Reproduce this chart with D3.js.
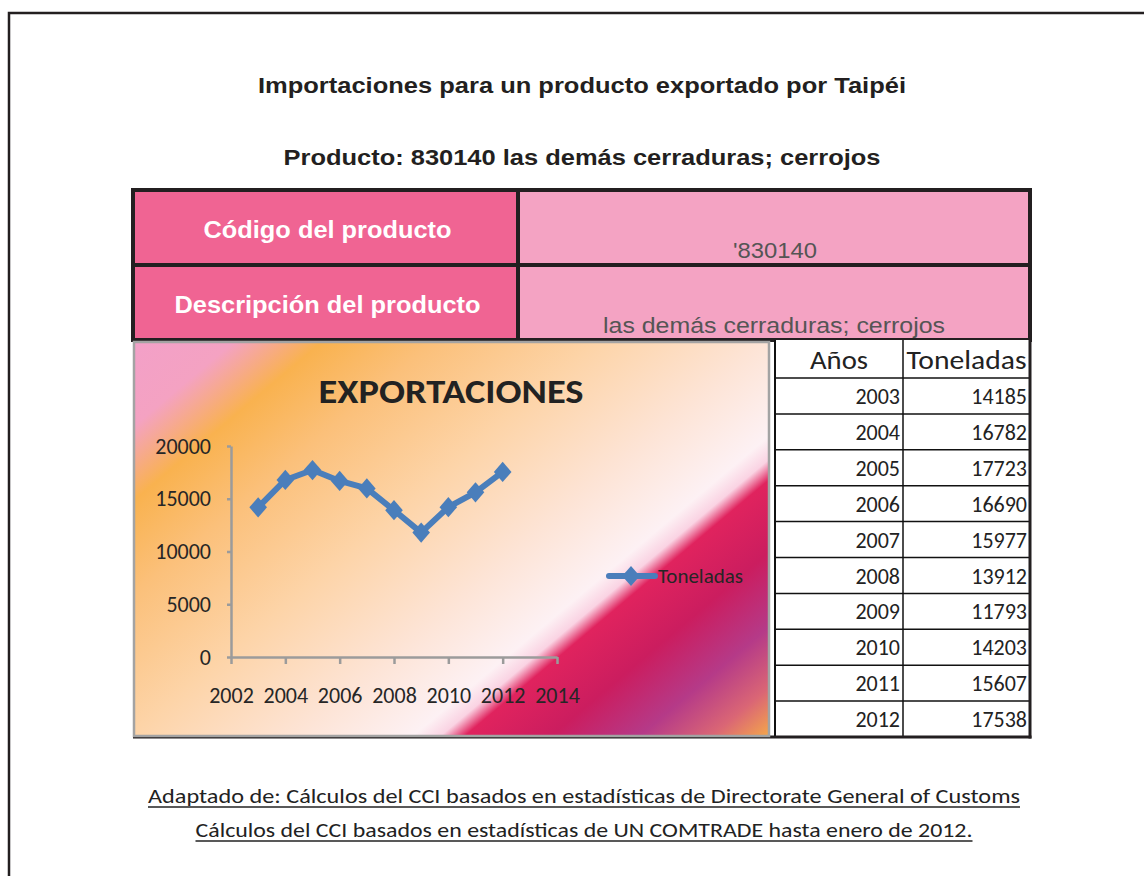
<!DOCTYPE html>
<html>
<head>
<meta charset="utf-8">
<script src="https://cdn.jsdelivr.net/npm/d3@7"></script>
<style>
  body { margin: 0; background: #fff; }
  svg { display: block; }
</style>
</head>
<body>
<svg id="chart" width="1144" height="876"></svg>
<script>
// datos de la tabla / serie
const years = [2003, 2004, 2005, 2006, 2007, 2008, 2009, 2010, 2011, 2012]
const toneladas = [14185, 16782, 17723, 16690, 15977, 13912, 11793, 14203, 15607, 17538]

const yTicks = [0, 5000, 10000, 15000, 20000]
const xTicks = [2002, 2004, 2006, 2008, 2010, 2012, 2014]

const titles = ["Importaciones para un producto exportado por Taipéi",
                "Producto: 830140 las demás cerraduras; cerrojos"]
const infoLabels = ["Código del producto", "Descripción del producto"]
const infoValues = ["'830140", "las demás cerraduras; cerrojos"]
const tableHeader = ["Años", "Toneladas"]
const chartTitle = "EXPORTACIONES"
const seriesName = "Toneladas"
const footer = ["Adaptado de: Cálculos del CCI basados en estadísticas de Directorate General of Customs ",
                "Cálculos del CCI basados en estadísticas de UN COMTRADE hasta enero de 2012."]

const ARIAL = "'Liberation Sans', Arial, sans-serif"
const CALIBRI = "Carlito, 'Liberation Sans Narrow', 'Open Sans', sans-serif"
const INK = "#231F20"

var svg = d3.select("#chart")

/*
  marco exterior
 */
svg.append("path")
  .attr("d", "M9,876 V13 H1144")
  .attr("fill", "none")
  .attr("stroke", INK)
  .attr("stroke-width", 2.5)

// titulos
svg.selectAll(".title")
  .data(titles)
  .enter().append("text")
  .attr("class", "title")
  .attr("x", 582)
  .attr("y", (d, i) => 93 + i * 72)
  .attr("text-anchor", "middle")
  .attr("font-family", ARIAL)
  .attr("font-weight", "bold")
  .attr("font-size", 22)
  .attr("fill", INK)
  .attr("textLength", (d, i) => [648, 597][i])
  .attr("lengthAdjust", "spacingAndGlyphs")
  .text(d => d)

/*
  tabla rosa (codigo / descripcion)
 */
const infoTop = 190, infoRow = 75, infoLeft = 133, infoMid = 518, infoRight = 1030

infoLabels.forEach((label, i) => {
  let y0 = infoTop + i * infoRow
  svg.append("rect").attr("x", infoLeft).attr("y", y0).attr("width", infoMid - infoLeft).attr("height", infoRow).attr("fill", "#F06493")
  svg.append("rect").attr("x", infoMid).attr("y", y0).attr("width", infoRight - infoMid).attr("height", infoRow).attr("fill", "#F4A3C3")

  svg.append("text")
    .attr("x", (infoLeft + infoMid) / 2 + 2)
    .attr("y", y0 + 48)
    .attr("text-anchor", "middle")
    .attr("font-family", ARIAL)
    .attr("font-weight", "bold")
    .attr("font-size", 23)
    .attr("fill", "#fff")
    .attr("textLength", [248, 306][i])
    .attr("lengthAdjust", "spacingAndGlyphs")
    .text(label)

  svg.append("text")
    .attr("x", [775, 774][i])
    .attr("y", y0 + 68)
    .attr("text-anchor", "middle")
    .attr("font-family", ARIAL)
    .attr("font-size", 22)
    .attr("fill", "#555")
    .attr("textLength", [84, 342][i])
    .attr("lengthAdjust", "spacingAndGlyphs")
    .text(infoValues[i])
})

svg.append("rect")
  .attr("x", infoLeft).attr("y", infoTop)
  .attr("width", infoRight - infoLeft).attr("height", infoRow * 2)
  .attr("fill", "none").attr("stroke", INK).attr("stroke-width", 4)
svg.append("line").attr("x1", infoLeft).attr("x2", infoRight).attr("y1", infoTop + infoRow).attr("y2", infoTop + infoRow)
  .attr("stroke", INK).attr("stroke-width", 4)
svg.append("line").attr("x1", infoMid).attr("x2", infoMid).attr("y1", infoTop).attr("y2", infoTop + infoRow * 2)
  .attr("stroke", INK).attr("stroke-width", 4)

/*
  tabla de datos (Años / Toneladas)
 */
const tLeft = 775, tMid = 903, tRight = 1030, tTop = 340, headH = 38, rowH = 35.9
const tBottom = tTop + headH + rowH * years.length

svg.append("rect").attr("x", tLeft).attr("y", tTop).attr("width", tRight - tLeft).attr("height", tBottom - tTop).attr("fill", "#fff")

svg.selectAll(".th")
  .data(tableHeader)
  .enter().append("text")
  .attr("x", (d, i) => i == 0 ? (tLeft + tMid) / 2 : (tMid + tRight) / 2)
  .attr("y", tTop + 29)
  .attr("text-anchor", "middle")
  .attr("font-family", CALIBRI)
  .attr("font-size", 27)
  .attr("fill", "#222")
  .attr("textLength", (d, i) => [58, 120][i])
  .attr("lengthAdjust", "spacingAndGlyphs")
  .text(d => d)

let rows = svg.selectAll(".row")
  .data(years)
  .enter().append("g")
  .attr("transform", (d, i) => "translate(0," + (tTop + headH + i * rowH) + ")")

rows.append("line")
  .attr("x1", tLeft).attr("x2", tRight).attr("y1", 0).attr("y2", 0)
  .attr("stroke", "#111").attr("stroke-width", 1.5)

rows.append("text")
  .attr("x", tMid - 3)
  .attr("y", 26)
  .attr("text-anchor", "end")
  .attr("font-family", CALIBRI)
  .attr("font-size", 22)
  .attr("fill", "#222")
  .text(d => d)

rows.append("text")
  .attr("x", tRight - 3)
  .attr("y", 26)
  .attr("text-anchor", "end")
  .attr("font-family", CALIBRI)
  .attr("font-size", 22)
  .attr("fill", "#222")
  .text((d, i) => toneladas[i])

svg.append("line").attr("x1", tLeft).attr("x2", tLeft).attr("y1", tTop).attr("y2", tBottom).attr("stroke", "#111").attr("stroke-width", 2)
svg.append("line").attr("x1", tMid).attr("x2", tMid).attr("y1", tTop).attr("y2", tBottom).attr("stroke", "#111").attr("stroke-width", 1.5)
svg.append("line").attr("x1", tRight).attr("x2", tRight).attr("y1", tTop).attr("y2", tBottom + 1.5).attr("stroke", INK).attr("stroke-width", 3)
svg.append("line").attr("x1", 133).attr("x2", tRight + 1.5).attr("y1", tBottom).attr("y2", tBottom).attr("stroke", INK).attr("stroke-width", 3)

/*
  grafico EXPORTACIONES
 */
const box = {x: 134, y: 342, w: 635, h: 394}

// degradado diagonal tipo Office
let grad = svg.append("defs").append("linearGradient")
  .attr("id", "bg")
  .attr("gradientUnits", "userSpaceOnUse")
  .attr("x1", box.x).attr("y1", box.y)
  .attr("x2", box.x + 459).attr("y2", box.y + 545)

const stops = [
  [0, "#F3A0C8"], [0.09, "#F4A2C2"], [0.17, "#F9B24F"], [0.27, "#FBC07A"],
  [0.42, "#FDD4A8"], [0.57, "#FDE4D6"], [0.675, "#FDF1F4"], [0.7, "#FAD3E3"],
  [0.722, "#E0235E"], [0.8, "#CB1D5F"], [0.88, "#B53A88"], [0.945, "#DA6675"], [1, "#F6AA48"]
]
grad.selectAll("stop")
  .data(stops)
  .enter().append("stop")
  .attr("offset", d => d[0])
  .attr("stop-color", d => d[1])

svg.append("rect")
  .attr("x", box.x).attr("y", box.y)
  .attr("width", box.w).attr("height", box.h)
  .attr("fill", "url(#bg)")
  .attr("stroke", "#A3A3A3")
  .attr("stroke-width", 2.5)

svg.append("text")
  .attr("x", 451)
  .attr("y", 403)
  .attr("text-anchor", "middle")
  .attr("font-family", CALIBRI)
  .attr("font-weight", "bold")
  .attr("font-size", 35)
  .attr("fill", "#222")
  .attr("textLength", 265)
  .attr("lengthAdjust", "spacingAndGlyphs")
  .text(chartTitle)

var x = d3.scaleLinear().domain([2002, 2014]).range([231, 557])
var y = d3.scaleLinear().domain([0, 20000]).range([657, 446])

let yAxis = svg.append("g")
  .attr("transform", "translate(231,0)")
  .call(d3.axisLeft(y).tickValues(yTicks).tickSizeInner(4).tickSizeOuter(0).tickPadding(16).tickFormat(d3.format("d")))
let xAxis = svg.append("g")
  .attr("transform", "translate(0,657)")
  .call(d3.axisBottom(x).tickValues(xTicks).tickSizeInner(7).tickSizeOuter(0).tickFormat(d3.format("d")))

;[yAxis, xAxis].forEach(ax => {
  ax.select(".domain").attr("stroke", "#9B9B9B").attr("stroke-width", 2.5)
  ax.selectAll(".tick line").attr("stroke", "#9B9B9B").attr("stroke-width", 2.5)
  ax.selectAll(".tick text")
    .attr("font-family", CALIBRI)
    .attr("font-size", 22)
    .attr("fill", "#262626")
})
xAxis.selectAll(".tick text").attr("y", 46).attr("dy", 0)

// serie
let line = d3.line()
  .x((d, i) => x(years[i]))
  .y(d => y(d))

svg.append("path")
  .datum(toneladas)
  .attr("d", line)
  .attr("fill", "none")
  .attr("stroke", "#4A7EBB")
  .attr("stroke-width", 6)
  .attr("stroke-linejoin", "round")

// rombo: cuadrado girado, algo alargado
let diamond = d3.symbol().type(d3.symbolSquare).size(155)

svg.selectAll(".pt")
  .data(toneladas)
  .enter().append("path")
  .attr("class", "pt")
  .attr("transform", (d, i) => "translate(" + x(years[i]) + "," + y(d) + ") scale(1,1.15) rotate(45)")
  .attr("d", diamond)
  .attr("fill", "#4A7EBB")

// leyenda
svg.append("line")
  .attr("x1", 609).attr("x2", 655).attr("y1", 576).attr("y2", 576)
  .attr("stroke", "#4A7EBB").attr("stroke-width", 6).attr("stroke-linecap", "round")
svg.append("path")
  .attr("transform", "translate(631,576) scale(1,1.15) rotate(45)")
  .attr("d", diamond)
  .attr("fill", "#4A7EBB")
svg.append("text")
  .attr("x", 658)
  .attr("y", 583)
  .attr("font-family", CALIBRI)
  .attr("font-size", 21)
  .attr("fill", "#262626")
  .attr("textLength", 85)
  .attr("lengthAdjust", "spacingAndGlyphs")
  .text(seriesName)

/*
  fuente
 */
const footW = [872, 777]
footer.forEach((t, i) => {
  let by = 803 + i * 34
  svg.append("text")
    .attr("x", 584)
    .attr("y", by)
    .attr("text-anchor", "middle")
    .attr("font-family", CALIBRI)
    .attr("font-size", 21)
    .attr("fill", "#222")
    .attr("textLength", footW[i])
    .attr("lengthAdjust", "spacingAndGlyphs")
    .text(t)
  svg.append("line")
    .attr("x1", 584 - footW[i] / 2).attr("x2", 584 + footW[i] / 2)
    .attr("y1", by + 4).attr("y2", by + 4)
    .attr("stroke", "#222").attr("stroke-width", 1.5)
})
</script>
</body>
</html>
